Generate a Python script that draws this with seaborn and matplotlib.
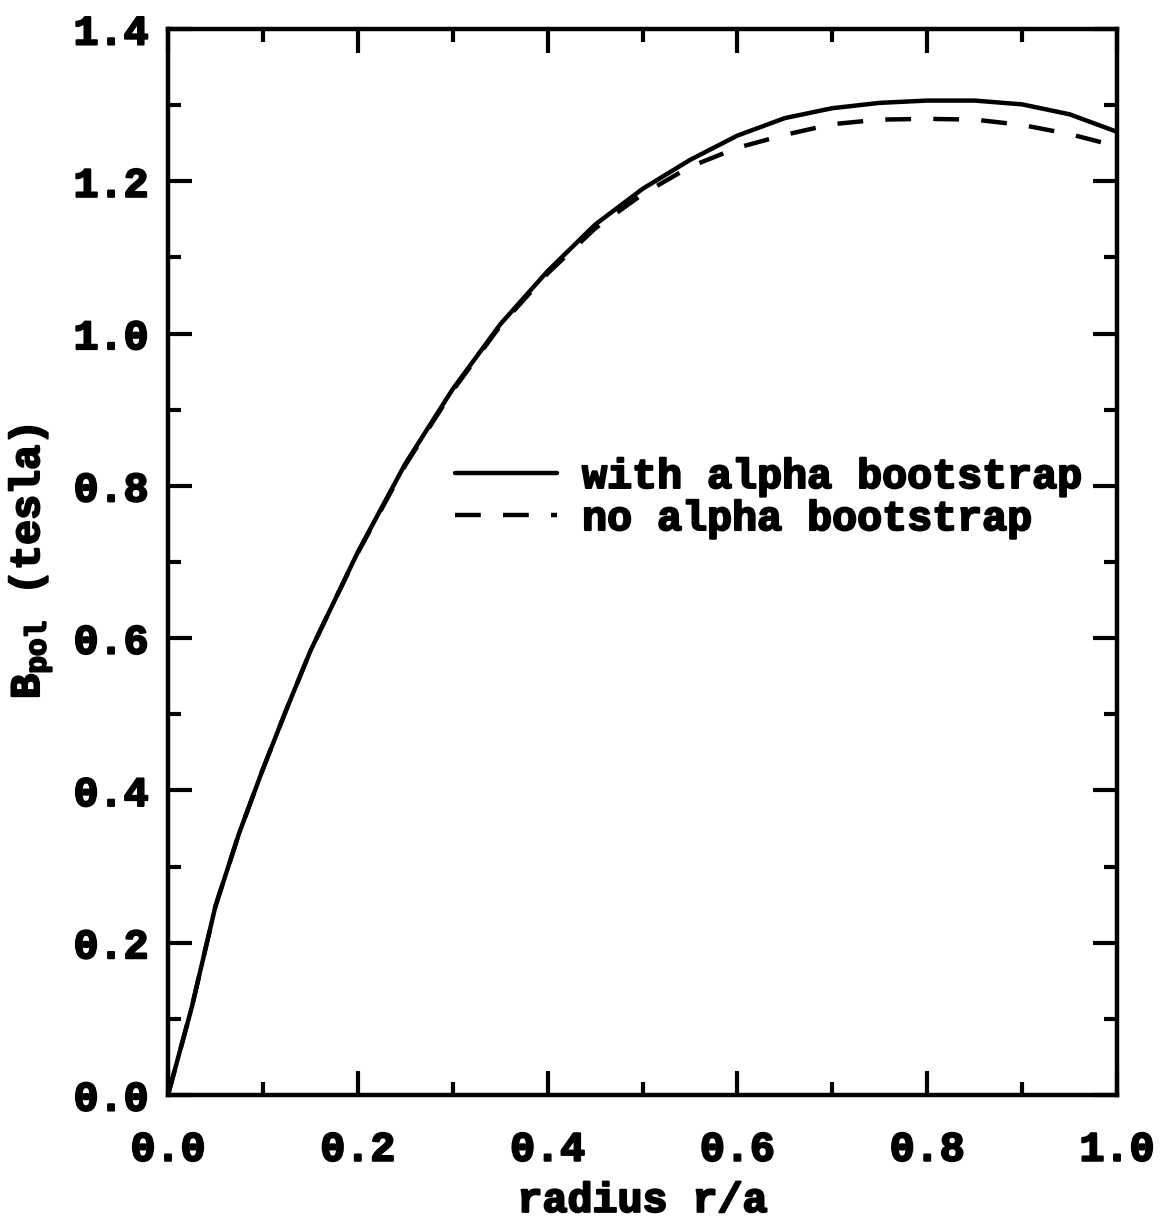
import numpy as np
import pandas as pd
import matplotlib
matplotlib.use("Agg")
import matplotlib.pyplot as plt
import matplotlib.patheffects as pe
from matplotlib.ticker import MultipleLocator
import seaborn as sns

# ---- data ----
radius = [0.0, 0.025, 0.05, 0.075, 0.10, 0.125, 0.15, 0.175, 0.20, 0.25, 0.30,
          0.35, 0.40, 0.45, 0.50, 0.55, 0.60, 0.65, 0.70, 0.75, 0.80, 0.85,
          0.90, 0.95, 1.0]
with_alpha = [0.0, 0.115, 0.248, 0.344, 0.428, 0.507, 0.583, 0.648, 0.713,
              0.829, 0.927, 1.012, 1.082, 1.143, 1.190, 1.228, 1.260, 1.283,
              1.296, 1.303, 1.306, 1.306, 1.301, 1.288, 1.265]
no_alpha = [0.0, 0.115, 0.248, 0.344, 0.428, 0.507, 0.583, 0.648, 0.712,
            0.827, 0.925, 1.010, 1.079, 1.138, 1.183, 1.219, 1.244, 1.261,
            1.275, 1.281, 1.282, 1.281, 1.274, 1.262, 1.246]
labels = ["with alpha bootstrap", "no alpha bootstrap"]
xticks = [0.0, 0.2, 0.4, 0.6, 0.8, 1.0]
yticks = [0.0, 0.2, 0.4, 0.6, 0.8, 1.0, 1.2, 1.4]

sns.set_theme(style="white")
FONT = "Liberation Mono"
plt.rcParams["font.family"] = [FONT]
plt.rcParams["font.weight"] = "bold"
plt.rcParams["mathtext.fontset"] = "custom"
plt.rcParams["mathtext.rm"] = FONT + ":bold"
plt.rcParams["mathtext.it"] = FONT + ":bold"
plt.rcParams["mathtext.bf"] = FONT + ":bold"

df = pd.DataFrame({
    "r": radius * 2,
    "B": with_alpha + no_alpha,
    "case": [labels[0]] * len(radius) + [labels[1]] * len(radius),
})

fig = plt.figure(figsize=(11.7, 12.22), dpi=100)
ax = fig.add_axes([168 / 1170, 1 - 1095 / 1222, (1117 - 168) / 1170, (1095 - 29) / 1222])

LW = 3.2
DASH = [5.8, 5.0]
sns.lineplot(data=df[df.case == labels[0]], x="r", y="B", color="black",
             lw=LW, ax=ax, label=labels[0])
sns.lineplot(data=df[df.case == labels[1]], x="r", y="B", color="black",
             lw=LW, ax=ax, label=labels[1])
ax.lines[1].set_dashes(DASH)

ax.set_xlim(0, 1.0)
ax.set_ylim(0, 1.4)
ax.set_xticks(xticks)
ax.set_yticks(yticks)
ax.set_xticklabels([f"{v:.1f}" for v in xticks])
ax.set_yticklabels([f"{v:.1f}" for v in yticks])
ax.xaxis.set_minor_locator(MultipleLocator(0.1))
ax.yaxis.set_minor_locator(MultipleLocator(0.1))

FS = 30
ax.tick_params(which="both", direction="in", top=True, right=True,
               bottom=True, left=True, color="black", width=3)
ax.tick_params(which="major", length=17)
ax.tick_params(which="minor", length=9.5)
ax.tick_params(axis="x", which="major", labelsize=FS, pad=25)
ax.tick_params(axis="y", which="major", labelsize=FS, pad=14)
for s in ax.spines.values():
    s.set_linewidth(3.2)
    s.set_color("black")
    s.set_visible(True)

ax.set_xlabel("radius r/a", fontsize=FS, fontweight="bold", labelpad=8)
ax.set_ylabel(r"B$_{\mathrm{pol}}$ (tesla)", fontsize=FS, fontweight="bold", labelpad=14)

leg = ax.legend(loc="center left", bbox_to_anchor=((455 - 168) / 949, (1095 - 498) / 1066),
                frameon=False, fontsize=FS, handlelength=2.45, handletextpad=0.6,
                labelspacing=0.05, borderpad=0, borderaxespad=0)
for h in leg.get_lines():
    h.set_linewidth(LW)
leg.get_lines()[1].set_dashes(DASH)

stroke = [pe.withStroke(linewidth=1.5, foreground="black")]
for t in ax.get_xticklabels() + ax.get_yticklabels() + leg.get_texts() + \
        [ax.xaxis.label, ax.yaxis.label]:
    t.set_path_effects(stroke)
    t.set_color("black")

fig.savefig("out.png", dpi=100, facecolor="white")
